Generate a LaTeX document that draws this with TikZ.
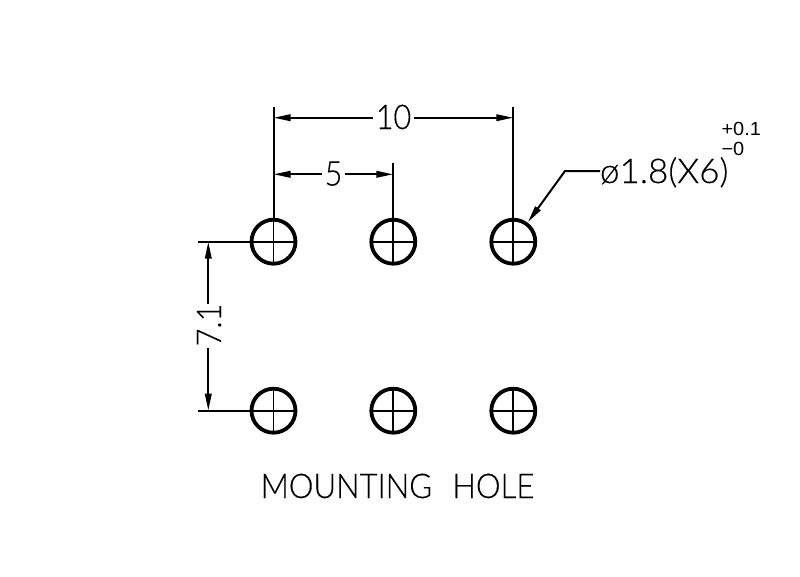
\documentclass[tikz,border=0pt]{standalone}
\usepackage{fontspec}
\setmainfont{Liberation Sans}
\newfontfamily\lightfont[FakeBold=0.25,FakeStretch=0.9]{Lato Light}
\newfontfamily\leaderfont[FakeBold=0.25,FakeStretch=1.03]{Lato Light}
\newfontfamily\titlefont[FakeBold=0.25,FakeStretch=0.915]{Lato Light}
\newfontfamily\tolfont[FakeStretch=1.05]{Liberation Sans}
\usetikzlibrary{arrows.meta}
\begin{document}
\begin{tikzpicture}[x=1pt,y=-1pt,
  hole/.style={circle,draw=black,line width=3.8pt,minimum size=44pt,inner sep=0pt,outer sep=0pt},
  thin line/.style={draw=black,line width=2pt},
  cross/.style={draw=black,line width=1.9pt},
  dimarrow/.style={thin line,-{Stealth[length=17pt,width=6.5pt,inset=0pt]}},
  dimtext/.style={inner sep=0pt,outer sep=0pt,font=\lightfont\fontsize{34}{34}\selectfont,anchor=base},
  toltext/.style={inner sep=0pt,outer sep=0pt,font=\tolfont\fontsize{19}{19}\selectfont,anchor=base west},
]
\useasboundingbox (0,0) rectangle (800,576);
% holes
\foreach \n/\x/\y in {a/273.5/241.7,b/393.3/241.7,c/513.3/241.7,d/273.5/410.7,e/393.3/410.7,f/513.3/410.7}{
  \node[hole] (\n) at (\x,\y) {};
  \draw[cross] (\n.west) -- (\n.east);
  \draw[cross] (\n.north) -- (\n.south);
}
% coordinates
\coordinate (topa) at (273.5,106.7);
\coordinate (topb) at (393.3,163.3);
\coordinate (topc) at (513.3,106.7);
\coordinate (la) at (197.7,241.7);
\coordinate (ld) at (197.7,410.7);
\coordinate (d10l) at (273.5,117.7);
\coordinate (d10r) at (513.3,117.7);
\coordinate (d5l) at (273.5,174.3);
\coordinate (d5r) at (393.3,174.3);
\coordinate (d7t) at (208.3,241.7);
\coordinate (d7b) at (208.3,410.7);
\coordinate (elbow) at (565,171);
\coordinate (tip) at (528,222);
% extension lines
\draw[thin line] (a.north) -- (topa);
\draw[thin line] (b.north) -- (topb);
\draw[thin line] (c.north) -- (topc);
\draw[thin line] (a.west) -- (la);
\draw[thin line] (d.west) -- (ld);
% labels
\node[dimtext] (t10) at (393.5,129) {10};
\node[dimtext] (t5) at (333.5,185.5) {5};
\node[dimtext,rotate=90] (t7) at (221,325) {7.1};
\node[dimtext,anchor=base west,font=\leaderfont\fontsize{34}{34}\selectfont] (tdia) at (600,183) {ø1.8(X6)};
\node[toltext] (tp) at (721.5,135) {+0.1};
\node[toltext] (tm) at (721.5,155) {−0};
\node[inner sep=0pt,outer sep=0pt,anchor=base,font=\titlefont\fontsize{34}{34}\selectfont] (title) at (397.5,498) {MOUNTING\hspace{0.6em}HOLE};
% dimension lines
\draw[dimarrow] ([xshift=-3pt]t10.west |- d10l) -- (d10l);
\draw[dimarrow] ([xshift=3pt]t10.east |- d10r) -- (d10r);
\draw[dimarrow] ([xshift=-3pt]t5.west |- d5l) -- (d5l);
\draw[dimarrow] ([xshift=3pt]t5.east |- d5r) -- (d5r);
\draw[dimarrow] (d7t |- 0,304) -- (d7t);
\draw[dimarrow] (d7b |- 0,348) -- (d7b);
% leader
\draw[dimarrow] (tdia.west |- elbow) -- (elbow) -- (tip);
\end{tikzpicture}
\end{document}
